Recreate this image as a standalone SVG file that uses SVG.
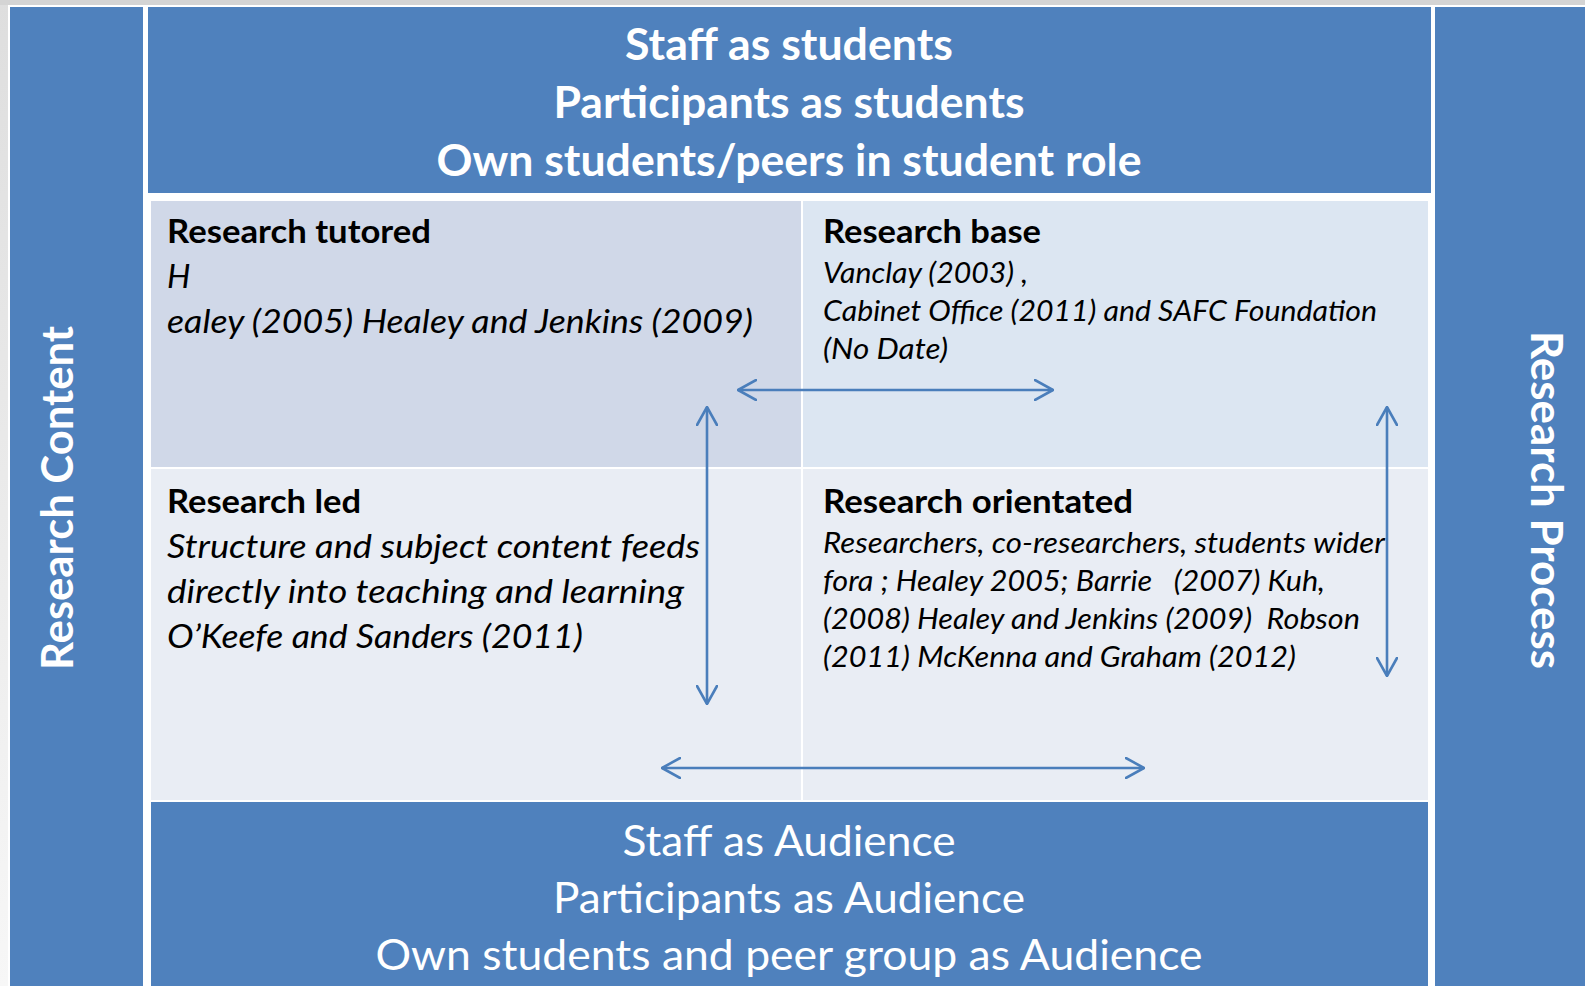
<svg xmlns="http://www.w3.org/2000/svg" width="1585" height="986" viewBox="0 0 1585 986">
  <defs>
    <linearGradient id="edge" x1="0" y1="0" x2="0" y2="1">
      <stop offset="0" stop-color="#dedede"/>
      <stop offset="1" stop-color="#f7f7f7"/>
    </linearGradient>
    <marker id="chev" viewBox="0 0 20 22" refX="19" refY="11" markerWidth="20" markerHeight="22" markerUnits="userSpaceOnUse" orient="auto-start-reverse">
      <path d="M1,1 L19,11 L1,21" fill="none" stroke="#4A7EBB" stroke-width="2.6" stroke-linecap="round" stroke-linejoin="miter"/>
    </marker>
    <style>
      .blue { fill: #4F81BD; }
      .hdr { font-family: Lato, "Open Sans", "Liberation Sans", sans-serif; font-weight: bold; fill: #FFFFFF; font-size: 43px; }
      .aud { font-family: Lato, "Open Sans", "Liberation Sans", sans-serif; font-weight: normal; fill: #FFFFFF; font-size: 43px; }
      .side { font-family: Lato, "Open Sans", "Liberation Sans", sans-serif; font-weight: bold; fill: #FFFFFF; font-size: 43px; }
      .title { font-family: Lato, "Open Sans", "Liberation Sans", sans-serif; font-weight: bold; fill: #000000; font-size: 33px; }
      .it { font-family: Lato, "Open Sans", "Liberation Sans", sans-serif; font-style: italic; fill: #000000; font-size: 33px; }
      .its { font-family: Lato, "Open Sans", "Liberation Sans", sans-serif; font-style: italic; fill: #000000; font-size: 29px; }
      .conn { stroke: #4A7EBB; stroke-width: 2.6; fill: none; marker-start: url(#chev); marker-end: url(#chev); }
    </style>
  </defs>

  <!-- background -->
  <rect x="0" y="0" width="1585" height="986" fill="#FFFFFF"/>
  <rect x="0" y="0" width="8" height="986" fill="url(#edge)"/>
  <rect x="0" y="0" width="1585" height="5" fill="#D4D4D4"/>

  <g id="research-content">
    <rect class="blue" x="10" y="7" width="133" height="979"/>
    <text class="side" transform="translate(73,498) rotate(-90)" text-anchor="middle" textLength="344" lengthAdjust="spacingAndGlyphs">Research Content</text>
  </g>

  <g id="research-process">
    <rect class="blue" x="1435" y="7" width="150" height="979"/>
    <text class="side" transform="translate(1531,500) rotate(90)" text-anchor="middle" textLength="338" lengthAdjust="spacingAndGlyphs">Research Process</text>
  </g>

  <g id="staff-as-students">
    <rect class="blue" x="148" y="7" width="1283" height="186"/>
    <text class="hdr" x="789" y="60" text-anchor="middle" textLength="328" lengthAdjust="spacingAndGlyphs">Staff as students</text>
    <text class="hdr" x="789" y="118" text-anchor="middle" textLength="471" lengthAdjust="spacingAndGlyphs">Participants as students</text>
    <text class="hdr" x="789" y="176" text-anchor="middle" textLength="705" lengthAdjust="spacingAndGlyphs">Own students/peers in student role</text>
  </g>

  <g id="research-tutored">
    <rect x="151" y="201" width="650" height="266" fill="#D0D8E8"/>
    <text class="title" x="167" y="243" textLength="264" lengthAdjust="spacingAndGlyphs">Research tutored</text>
    <text class="it" x="167" y="288">H</text>
    <text class="it" x="167" y="333" textLength="586" lengthAdjust="spacingAndGlyphs">ealey (2005) Healey and Jenkins (2009)</text>
  </g>

  <g id="research-base">
    <rect x="803" y="201" width="625" height="266" fill="#DCE6F2"/>
    <text class="title" x="823" y="243" textLength="218" lengthAdjust="spacingAndGlyphs">Research base</text>
    <text class="its" x="823" y="283" textLength="205" lengthAdjust="spacingAndGlyphs">Vanclay (2003) ,</text>
    <text class="its" x="823" y="321" textLength="554" lengthAdjust="spacingAndGlyphs">Cabinet Office (2011) and SAFC Foundation</text>
    <text class="its" x="823" y="359" textLength="125" lengthAdjust="spacingAndGlyphs">(No Date)</text>
  </g>

  <g id="research-led">
    <rect x="151" y="469" width="650" height="331" fill="#E9EDF4"/>
    <text class="title" x="167" y="513" textLength="194" lengthAdjust="spacingAndGlyphs">Research led</text>
    <text class="it" x="167" y="558" textLength="533" lengthAdjust="spacingAndGlyphs">Structure and subject content feeds</text>
    <text class="it" x="167" y="603" textLength="517" lengthAdjust="spacingAndGlyphs">directly into teaching and learning</text>
    <text class="it" x="167" y="648" textLength="416" lengthAdjust="spacingAndGlyphs">O’Keefe and Sanders (2011)</text>
  </g>

  <g id="research-orientated">
    <rect x="803" y="469" width="625" height="331" fill="#E9EDF4"/>
    <text class="title" x="823" y="513" textLength="310" lengthAdjust="spacingAndGlyphs">Research orientated</text>
    <text class="its" x="823" y="553" textLength="562" lengthAdjust="spacingAndGlyphs">Researchers, co-researchers, students wider</text>
    <text class="its" x="823" y="591" textLength="502" lengthAdjust="spacingAndGlyphs" xml:space="preserve">fora ; Healey 2005; Barrie   (2007) Kuh,</text>
    <text class="its" x="823" y="629" textLength="537" lengthAdjust="spacingAndGlyphs" xml:space="preserve">(2008) Healey and Jenkins (2009)  Robson</text>
    <text class="its" x="823" y="667" textLength="473" lengthAdjust="spacingAndGlyphs">(2011) McKenna and Graham (2012)</text>
  </g>

  <g id="staff-as-audience">
    <rect class="blue" x="151" y="802" width="1277" height="184"/>
    <text class="aud" x="789" y="856" text-anchor="middle" textLength="333" lengthAdjust="spacingAndGlyphs">Staff as Audience</text>
    <text class="aud" x="789" y="913" text-anchor="middle" textLength="472" lengthAdjust="spacingAndGlyphs">Participants as Audience</text>
    <text class="aud" x="789" y="970" text-anchor="middle" textLength="827" lengthAdjust="spacingAndGlyphs">Own students and peer group as Audience</text>
  </g>

  <g id="connectors">
    <line class="conn" x1="738" y1="390" x2="1053" y2="390"/>
    <line class="conn" x1="662" y1="768" x2="1144" y2="768"/>
    <line class="conn" x1="707" y1="407" x2="707" y2="704"/>
    <line class="conn" x1="1387" y1="407" x2="1387" y2="676"/>
  </g>
</svg>
